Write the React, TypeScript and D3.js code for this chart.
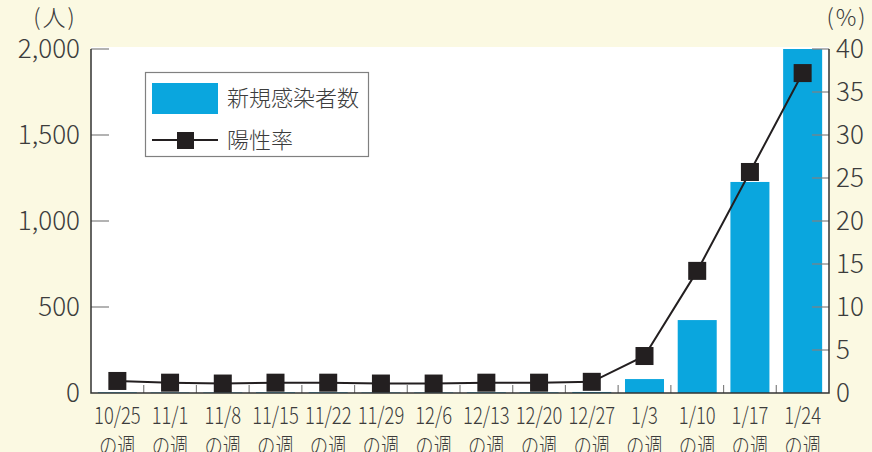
import { useEffect, useRef } from "react";
import * as d3 from "d3";

const weeks = ["10/25", "11/1", "11/8", "11/15", "11/22", "11/29", "12/6", "12/13", "12/20", "12/27", "1/3", "1/10", "1/17", "1/24"];
const newCases = [4, 3, 3, 4, 4, 3, 3, 4, 4, 6, 81, 424, 1227, 2000];
const positiveRate = [1.4, 1.2, 1.1, 1.2, 1.2, 1.1, 1.1, 1.2, 1.2, 1.3, 4.3, 14.2, 25.7, 37.2];
const leftTicks = [0, 500, 1000, 1500, 2000];
const rightTicks = [0, 5, 10, 15, 20, 25, 30, 35, 40];

const BLUE = "#0aa6de";
const DARK = "#231f20";
const TEXT = "#3c3c3c";
const FONT = "'Noto Sans CJK JP', 'Noto Sans', sans-serif";

const Chart = () => {
  const svgRef = useRef<SVGSVGElement | null>(null);

  useEffect(() => {
    document.body.style.margin = "0";
    const width = 872;
    const height = 452;
    const margin = { top: 49, right: 43, bottom: 59, left: 91 };

    const x = d3
      .scaleBand<string>()
      .domain(weeks)
      .range([margin.left, width - margin.right])
      .paddingInner(0.26)
      .paddingOuter(0.13);
    const step = x.step();
    const yL = d3.scaleLinear().domain([0, 2000]).range([height - margin.bottom, margin.top]);
    const yR = d3.scaleLinear().domain([0, 40]).range([height - margin.bottom, margin.top]);

    const svg = d3.select(svgRef.current);
    svg.selectAll("*").remove();

    svg.append("rect").attr("width", width).attr("height", height).attr("fill", "#fbf9e2");
    svg
      .append("rect")
      .attr("x", margin.left)
      .attr("y", margin.top - 2)
      .attr("width", width - margin.left - margin.right)
      .attr("height", height - margin.top - margin.bottom + 2)
      .attr("fill", "#ffffff");

    // bars
    svg
      .append("g")
      .selectAll("rect")
      .data(newCases)
      .join("rect")
      .attr("x", (_, i) => x(weeks[i])!)
      .attr("width", x.bandwidth())
      .attr("y", (d) => yL(d))
      .attr("height", (d) => yL(0) - yL(d))
      .attr("fill", BLUE);

    // category separators
    svg
      .append("g")
      .selectAll("line")
      .data(weeks.slice(1))
      .join("line")
      .attr("x1", (d) => x(d)! - (step - x.bandwidth()) / 2)
      .attr("x2", (d) => x(d)! - (step - x.bandwidth()) / 2)
      .attr("y1", yL(0))
      .attr("y2", yL(0) - 8)
      .attr("stroke", "#808080")
      .attr("stroke-width", 1.2);

    // left axis
    const gl = svg.append("g");
    gl.selectAll("line")
      .data(leftTicks.slice(1))
      .join("line")
      .attr("x1", margin.left)
      .attr("x2", margin.left + 18)
      .attr("y1", (d) => yL(d))
      .attr("y2", (d) => yL(d))
      .attr("stroke", "#808080")
      .attr("stroke-width", 1.2);
    gl.selectAll("text")
      .data(leftTicks)
      .join("text")
      .attr("x", margin.left - 11)
      .attr("y", (d) => yL(d))
      .attr("dy", "0.36em")
      .attr("text-anchor", "end")
      .attr("font-size", 26)
      .attr("fill", TEXT)
      .text((d) => d3.format(",")(d));

    // right axis
    const gr = svg.append("g");
    const rx = width - margin.right;
    gr.selectAll("line")
      .data(rightTicks.slice(1))
      .join("line")
      .attr("x1", rx)
      .attr("x2", rx - 17)
      .attr("y1", (d) => yR(d))
      .attr("y2", (d) => yR(d))
      .attr("stroke", "#808080")
      .attr("stroke-width", 1.2);
    gr.selectAll("text")
      .data(rightTicks)
      .join("text")
      .attr("x", rx + 7)
      .attr("y", (d) => yR(d))
      .attr("dy", "0.36em")
      .attr("font-size", 26)
      .attr("fill", TEXT)
      .text((d) => d);

    svg
      .append("path")
      .attr("d", `M${margin.left},${margin.top}V${yL(0)}H${rx}V${margin.top}`)
      .attr("fill", "none")
      .attr("stroke", "#333333")
      .attr("stroke-width", 1.5);

    // unit labels
    svg.append("text").attr("x", 55).attr("y", 26).attr("text-anchor", "middle").attr("font-size", 23).attr("letter-spacing", 2).attr("fill", TEXT).text("(人)");
    svg.append("text").attr("x", 847).attr("y", 26).attr("text-anchor", "middle").attr("font-size", 23).attr("letter-spacing", 2).attr("fill", TEXT).text("(%)");

    // line
    const line = d3
      .line<number>()
      .x((_, i) => x(weeks[i])! + x.bandwidth() / 2)
      .y((d) => yR(d));
    svg
      .append("path")
      .datum(positiveRate)
      .attr("d", line)
      .attr("fill", "none")
      .attr("stroke", DARK)
      .attr("stroke-width", 2);
    svg
      .append("g")
      .selectAll("rect")
      .data(positiveRate)
      .join("rect")
      .attr("x", (_, i) => x(weeks[i])! + x.bandwidth() / 2 - 9)
      .attr("y", (d) => yR(d) - 9)
      .attr("width", 18)
      .attr("height", 18)
      .attr("fill", DARK);

    // x labels
    const xl = svg.append("g");
    weeks.forEach((w) => {
      const cx = x(w)! + x.bandwidth() / 2;
      const t = xl
        .append("text")
        .attr("text-anchor", "middle")
        .attr("font-size", 23)
        .attr("fill", TEXT)
        .attr("transform", `translate(${cx},0) scale(0.8,1)`);
      t.append("tspan").attr("x", 0).attr("y", 424).text(w);
      t.append("tspan").attr("x", 0).attr("y", 454).text("の週");
    });

    // legend
    const lg = svg.append("g");
    lg.append("rect")
      .attr("x", 145.5)
      .attr("y", 72.5)
      .attr("width", 223)
      .attr("height", 84)
      .attr("fill", "#ffffff")
      .attr("stroke", "#808080")
      .attr("stroke-width", 1.2);
    lg.append("rect").attr("x", 152).attr("y", 83).attr("width", 66).attr("height", 31).attr("fill", BLUE);
    lg.append("line").attr("x1", 152).attr("x2", 218).attr("y1", 140).attr("y2", 140).attr("stroke", DARK).attr("stroke-width", 2);
    lg.append("rect").attr("x", 177).attr("y", 132).attr("width", 17).attr("height", 17).attr("fill", DARK);
    lg.append("text").attr("x", 227).attr("y", 98).attr("dy", "0.36em").attr("font-size", 22).attr("fill", TEXT).text("新規感染者数");
    lg.append("text").attr("x", 227).attr("y", 140).attr("dy", "0.36em").attr("font-size", 22).attr("fill", TEXT).text("陽性率");
  }, []);

  return (
    <svg
      ref={svgRef}
      width={872}
      height={452}
      viewBox="0 0 872 452"
      style={{ display: "block", fontFamily: FONT, fontWeight: 300 }}
    />
  );
};

export default function App() {
  return <Chart />;
}
